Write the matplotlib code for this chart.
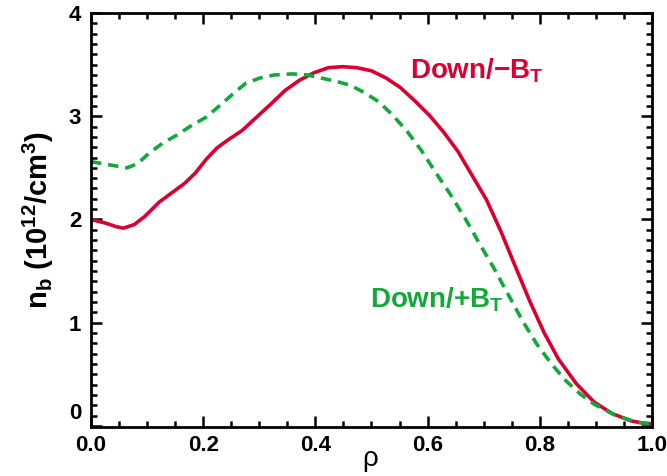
import matplotlib
matplotlib.use('Agg')
import matplotlib.pyplot as plt
from matplotlib.ticker import MultipleLocator

plt.rcParams['font.family'] = ['Liberation Sans', 'DejaVu Sans']
plt.rcParams['font.weight'] = 'bold'
plt.rcParams['mathtext.default'] = 'regular'

# beam density profiles, n_b in 1e12/cm^3 vs rho
rho_minus = [0.0, 0.026, 0.045, 0.058, 0.077, 0.096, 0.122, 0.147, 0.167, 0.186,
             0.205, 0.224, 0.244, 0.269, 0.295, 0.321, 0.346, 0.372, 0.397, 0.423,
             0.449, 0.474, 0.5, 0.526, 0.551, 0.577, 0.603, 0.628, 0.654, 0.679,
             0.705, 0.731, 0.756, 0.782, 0.808, 0.833, 0.865, 0.897, 0.929, 0.962,
             0.981, 1.0]
nb_minus = [2.00, 1.965, 1.93, 1.916, 1.95, 2.03, 2.17, 2.27, 2.35, 2.45,
            2.58, 2.69, 2.77, 2.86, 2.99, 3.12, 3.25, 3.35, 3.42, 3.47,
            3.48, 3.47, 3.44, 3.37, 3.28, 3.15, 3.01, 2.85, 2.66, 2.43,
            2.19, 1.88, 1.55, 1.21, 0.90, 0.65, 0.41, 0.23, 0.12, 0.05,
            0.03, 0.02]

rho_plus = [0.0, 0.032, 0.064, 0.083, 0.103, 0.128, 0.154, 0.179, 0.205, 0.231,
            0.256, 0.276, 0.301, 0.327, 0.359, 0.385, 0.41, 0.436, 0.462, 0.487,
            0.513, 0.538, 0.564, 0.59, 0.615, 0.641, 0.667, 0.692, 0.718, 0.744,
            0.769, 0.795, 0.821, 0.846, 0.872, 0.897, 0.936, 0.974, 1.0]
nb_plus = [2.56, 2.53, 2.50, 2.54, 2.64, 2.74, 2.82, 2.91, 2.99, 3.11,
           3.23, 3.32, 3.37, 3.40, 3.41, 3.40, 3.37, 3.34, 3.30, 3.23,
           3.14, 3.01, 2.85, 2.66, 2.45, 2.24, 2.01, 1.77, 1.53, 1.27,
           1.02, 0.79, 0.60, 0.44, 0.31, 0.21, 0.10, 0.035, 0.02]

y_ticks = [0, 1, 2, 3, 4]
x_ticks = [0.0, 0.2, 0.4, 0.6, 0.8, 1.0]

red = '#DC0030'
green = '#13A83A'

fig = plt.figure(figsize=(6.67, 4.76), dpi=100)
ax = fig.add_axes([0.1364, 0.103, 0.8411, 0.8697])

ax.plot(rho_minus, nb_minus, color=red, lw=2.6, solid_joinstyle='round')
ax.plot(rho_plus, nb_plus, color=green, lw=2.6, linestyle=(0, (2.9, 1.9)))

ax.set_xlim(0, 1)
ax.set_ylim(-0.01, 4)
ax.set_xticks(x_ticks)
ax.set_xticklabels(['%.1f' % v for v in x_ticks])
ax.xaxis.set_minor_locator(MultipleLocator(0.05))
ax.set_yticks(y_ticks)
# the zero label is drawn separately, a bit higher, so it clears "0.0"
ax.set_yticklabels([''] + [str(v) for v in y_ticks[1:]])
ax.yaxis.set_minor_locator(MultipleLocator(0.1))

ax.tick_params(which='both', direction='in', top=True, right=True,
               width=1.8, labelsize=16)
ax.tick_params(axis='x', pad=6)
ax.tick_params(axis='y', pad=7)
ax.tick_params(which='major', length=8)
ax.tick_params(which='minor', length=4.5)
for s in ax.spines.values():
    s.set_linewidth(2.0)

ax.annotate('0', xy=(0, 0), xycoords=('axes fraction', 'data'),
            xytext=(-7, 9), textcoords='offset points',
            ha='right', va='center', fontsize=16, fontweight='bold')

ax.set_ylabel('n$_b$ (10$^{12}$/cm$^3$)', fontsize=21, fontweight='bold', labelpad=9)
ax.set_xlabel('ρ', fontsize=20, fontweight='normal')
ax.xaxis.set_label_coords(0.497, -0.047)

ax.text(0.569, 3.37, 'Down/−B$_T$', color=red, fontsize=20, fontweight='bold')
ax.text(0.497, 1.15, 'Down/+B$_T$', color=green, fontsize=20, fontweight='bold')

fig.savefig('out.png', dpi=100)
